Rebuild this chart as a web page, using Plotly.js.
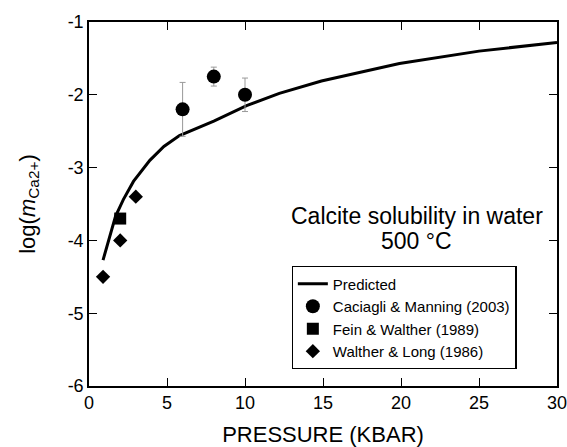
<!DOCTYPE html>
<html>
<head>
<meta charset="utf-8">
<script src="https://cdn.plot.ly/plotly-3.0.1.min.js"></script>
<style>html,body{margin:0;padding:0;background:#fff;}#chart{width:567px;height:447px;}</style>
</head>
<body>
<div id="chart"></div>
<script>
// Predicted curve
const predP = [0.9, 1.35, 1.7, 2.2, 2.85, 3.9, 4.8, 5.8, 8, 10.1, 11.6, 12.2, 14.9, 19.9, 25, 30];
const predLog = [-4.27, -3.94, -3.67, -3.44, -3.19, -2.90, -2.71, -2.56, -2.36, -2.15, -2.03, -1.98, -1.81, -1.57, -1.40, -1.28];
// Caciagli & Manning (2003)
const cmP = [6, 8, 10];
const cmLog = [-2.20, -1.75, -2.00];
const cmErr = [0.37, 0.13, 0.23];
// Fein & Walther (1989)
const fwP = [2];
const fwLog = [-3.7];
// Walther & Long (1986)
const wlP = [0.9, 2, 3];
const wlLog = [-4.5, -4.0, -3.4];
// Tick labels
const xTickVals = [0, 5, 10, 15, 20, 25, 30];
const xTickText = ['0', '5', '10', '15', '20', '25', '30'];
const yTickVals = [-6, -5, -4, -3, -2, -1];
const yTickText = ['-6', '-5', '-4', '-3', '-2', '-1'];

const FONT = '"Liberation Sans", Arial, sans-serif';

const traces = [
  {x: predP, y: predLog, mode: 'lines', name: 'Predicted', line: {color: '#000', width: 3}},
  {x: cmP, y: cmLog, mode: 'markers', name: 'Caciagli & Manning (2003)',
   marker: {symbol: 'circle', size: 14, color: '#000'},
   error_y: {type: 'data', array: cmErr, visible: true, color: '#999', thickness: 1, width: 3}},
  {x: fwP, y: fwLog, mode: 'markers', name: 'Fein & Walther (1989)',
   marker: {symbol: 'square', size: 12, color: '#000'}},
  {x: wlP, y: wlLog, mode: 'markers', name: 'Walther & Long (1986)',
   marker: {symbol: 'diamond', size: 11, color: '#000'}}
];

const layout = {
  width: 567, height: 447,
  margin: {l: 89, r: 10, t: 22, b: 61},
  font: {family: FONT, color: '#000'},
  xaxis: {
    range: [0, 30], tickmode: 'array', tickvals: xTickVals, ticktext: xTickText,
    showgrid: false, zeroline: false, showline: true, linecolor: '#000', linewidth: 1.5,
    mirror: 'allticks', ticks: 'inside', ticklen: 8, tickwidth: 1.2, tickcolor: '#000',
    ticklabeloverflow: 'allow',
    tickfont: {family: FONT, size: 18, color: '#000'},
    title: {text: 'PRESSURE (KBAR)', font: {family: FONT, size: 22, color: '#000'}}
  },
  yaxis: {
    range: [-6, -1], tickmode: 'array', tickvals: yTickVals, ticktext: yTickText,
    showgrid: false, zeroline: false, showline: true, linecolor: '#000', linewidth: 1.5,
    mirror: 'allticks', ticks: 'inside', ticklen: 8, tickwidth: 1.2, tickcolor: '#000',
    tickfont: {family: FONT, size: 18, color: '#000'},
    title: {text: 'log(<i>m</i><sub>Ca2+</sub>)', font: {family: FONT, size: 22, color: '#000'}}
  },
  legend: {x: 0.433, y: 0.329, xanchor: 'left', yanchor: 'top', bordercolor: '#000', borderwidth: 1.2,
    font: {family: FONT, size: 15, color: '#000'}},
  annotations: [
    {x: 21, y: -3.67, xref: 'x', yref: 'y', text: 'Calcite solubility in water', showarrow: false,
     font: {family: FONT, size: 23, color: '#000'}},
    {x: 21, y: -4.01, xref: 'x', yref: 'y', text: '500 °C', showarrow: false,
     font: {family: FONT, size: 23, color: '#000'}}
  ]
};

Plotly.newPlot('chart', traces, layout, {displayModeBar: false});
</script>
</body>
</html>
